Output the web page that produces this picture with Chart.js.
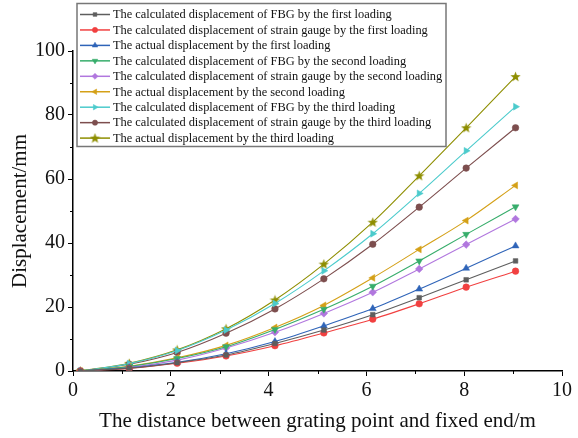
<!DOCTYPE html>
<html>
<head>
<meta charset="utf-8">
<script src="https://cdn.jsdelivr.net/npm/chart.js@4"></script>
<style>
  html, body { margin: 0; padding: 0; background: #fff; }
  #wrap { width: 578px; height: 438px; }
</style>
</head>
<body>
<div id="wrap"><canvas id="chart" width="578" height="438"></canvas></div>
<script>
// distance between grating point and fixed end (m)
const distance = [0.15, 1.15, 2.13, 3.13, 4.13, 5.13, 6.13, 7.08, 8.04, 9.05]

// displacement (mm)
const fbgFirst = [0, 0.9, 2.6, 5.0, 8.6, 12.8, 17.6, 22.9, 28.5, 34.4]
const gaugeFirst = [0, 0.8, 2.4, 4.7, 7.9, 11.9, 16.2, 21.0, 26.2, 31.2]
const actualFirst = [0, 1.0, 2.7, 5.4, 9.2, 14.1, 19.5, 25.6, 32.1, 39.1]
const fbgSecond = [0, 1.4, 3.9, 7.6, 13.0, 19.3, 26.5, 34.4, 42.7, 51.3]
const gaugeSecond = [0, 1.2, 3.4, 7.2, 12.1, 18.0, 24.6, 31.9, 39.5, 47.5]
const actualSecond = [0, 1.5, 4.1, 8.0, 13.6, 20.5, 29.1, 38.0, 47.0, 58.0]
const fbgThird = [0, 2.3, 6.4, 12.8, 21.1, 31.3, 42.9, 55.5, 68.8, 82.6]
const gaugeThird = [0, 2.1, 5.8, 11.8, 19.4, 28.8, 39.6, 51.2, 63.4, 76.0]
const actualThird = [0, 2.4, 6.6, 13.2, 22.2, 33.4, 46.5, 61.0, 76.0, 92.0]

const labels = [
  'The calculated displacement of FBG by the first loading',
  'The calculated displacement of strain gauge by the first loading',
  'The actual displacement by the first loading',
  'The calculated displacement of FBG by the second loading',
  'The calculated displacement of strain gauge by the second loading',
  'The actual displacement by the second loading',
  'The calculated displacement of FBG by the third loading',
  'The calculated displacement of strain gauge by the third loading',
  'The actual displacement by the third loading'
]
const series = [fbgFirst, gaugeFirst, actualFirst, fbgSecond, gaugeSecond, actualSecond, fbgThird, gaugeThird, actualThird]
const colors = ['#5e5e5e', '#f14040', '#2f64b8', '#37ad6b', '#b177de', '#d4a017', '#4ccbcc', '#7d4e4e', '#8e8e00']

// filled five point star for the last series
function makeStar(color) {
  const c = document.createElement('canvas')
  c.width = 11; c.height = 11
  const g = c.getContext('2d')
  g.fillStyle = color
  g.beginPath()
  for (let i = 0; i < 10; i++) {
    const r = i % 2 === 0 ? 5.4 : 2.3
    const a = -Math.PI / 2 + i * Math.PI / 5
    const px = 5.5 + r * Math.cos(a), py = 5.8 + r * Math.sin(a)
    if (i === 0) g.moveTo(px, py); else g.lineTo(px, py)
  }
  g.closePath()
  g.fill()
  return c
}

const styles = [
  { style: 'rect', rot: 0, r: 3.3 },
  { style: 'circle', rot: 0, r: 3.3 },
  { style: 'triangle', rot: 0, r: 4 },
  { style: 'triangle', rot: 180, r: 4 },
  { style: 'rectRot', rot: 0, r: 3.8 },
  { style: 'triangle', rot: -90, r: 4 },
  { style: 'triangle', rot: 90, r: 4 },
  { style: 'circle', rot: 0, r: 3.3 },
  { style: makeStar(colors[8]), rot: 0, r: 5 }
]

const datasets = series.map((vals, i) => ({
  label: labels[i],
  data: vals.map((v, j) => ({ x: distance[j], y: v })),
  borderColor: colors[i],
  backgroundColor: colors[i],
  borderWidth: 1.1,
  pointStyle: styles[i].style,
  rotation: styles[i].rot,
  pointRadius: styles[i].r,
  pointBorderWidth: 0.5,
  cubicInterpolationMode: 'monotone',
  tension: 0.4
}))

const font = 'Liberation Serif'

// minor ticks + boxed legend drawn over the plot
const extras = {
  id: 'extras',
  afterDraw(chart) {
    const ctx = chart.ctx
    const xs = chart.scales.x, ys = chart.scales.y
    ctx.save()
    ctx.strokeStyle = '#000'
    ctx.lineWidth = 1
    for (let v = 1; v < 10; v += 2) {
      const px = Math.round(xs.getPixelForValue(v)) + 0.5
      ctx.beginPath(); ctx.moveTo(px, ys.bottom); ctx.lineTo(px, ys.bottom + 3); ctx.stroke()
    }
    for (let v = 10; v < 100; v += 20) {
      const py = Math.round(ys.getPixelForValue(v)) + 0.5
      ctx.beginPath(); ctx.moveTo(xs.left, py); ctx.lineTo(xs.left - 3, py); ctx.stroke()
    }

    const bx = 77, by = 3.5, bw = 369, bh = 143
    ctx.fillStyle = '#fff'
    ctx.fillRect(bx, by, bw, bh)
    ctx.strokeStyle = '#777'
    ctx.lineWidth = 1.5
    ctx.strokeRect(bx, by, bw, bh)
    ctx.font = '12.4px "' + font + '"'
    ctx.textBaseline = 'middle'
    ctx.textAlign = 'left'
    chart.data.datasets.forEach((ds, i) => {
      const y = 14.5 + i * 15.45
      ctx.strokeStyle = ds.borderColor
      ctx.lineWidth = 1.5
      ctx.beginPath(); ctx.moveTo(80, y); ctx.lineTo(110, y); ctx.stroke()
      ctx.fillStyle = ds.backgroundColor
      ctx.strokeStyle = ds.borderColor
      ctx.lineWidth = 0.5
      Chart.helpers.drawPoint(ctx, { pointStyle: ds.pointStyle, rotation: ds.rotation, radius: ds.pointRadius * 0.8, borderWidth: 0.5 }, 95, y)
      ctx.fillStyle = '#111'
      ctx.fillText(ds.label, 113, y + 0.5)
    })
    ctx.restore()
  }
}

new Chart(document.getElementById('chart').getContext('2d'), {
  type: 'line',
  data: { datasets },
  options: {
    responsive: false,
    animation: false,
    layout: { padding: { top: 51, right: 16, left: 0, bottom: 0 } },
    plugins: {
      legend: { display: false },
      tooltip: { enabled: false }
    },
    scales: {
      x: {
        type: 'linear',
        min: 0,
        max: 10,
        afterFit(s) { s.height = 67 },
        border: { color: '#000', width: 1.5 },
        grid: {
          drawOnChartArea: false,
          tickLength: 5,
          tickColor: (c) => (c.tick && c.tick.value % 2 === 0 ? '#000' : 'rgba(0,0,0,0)')
        },
        ticks: {
          stepSize: 1,
          autoSkip: false,
          maxRotation: 0,
          padding: 3,
          color: '#111',
          font: { family: font, size: 20 },
          callback: (v) => (v % 2 === 0 ? v : '')
        },
        title: {
          display: true,
          text: 'The distance between grating point and fixed end/m',
          color: '#111',
          font: { family: font, size: 21 },
          padding: { top: 0, bottom: 4 }
        }
      },
      y: {
        min: 0,
        max: 100,
        afterFit(s) { s.width = 73 },
        border: { color: '#000', width: 1.5 },
        grid: {
          drawOnChartArea: false,
          tickLength: 5,
          tickColor: '#000'
        },
        ticks: {
          stepSize: 20,
          padding: 3,
          color: '#111',
          font: { family: font, size: 20 }
        },
        title: {
          display: true,
          text: 'Displacement/mm',
          color: '#111',
          font: { family: font, size: 21 },
          padding: { top: 8, bottom: 0 }
        }
      }
    }
  },
  plugins: [extras]
})
</script>
</body>
</html>
